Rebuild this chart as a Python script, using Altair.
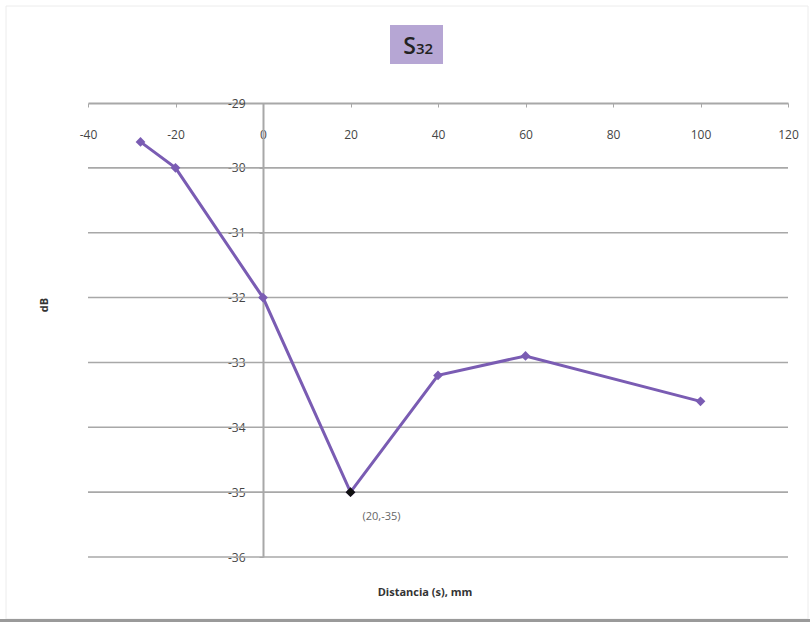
import altair as alt
import pandas as pd

# Measured S32 values versus distance
distancia = [-28, -20, 0, 20, 40, 60, 100]
db = [-29.6, -30.0, -32.0, -35.0, -33.2, -32.9, -33.6]

x_ticks = [-40, -20, 0, 20, 40, 60, 80, 100, 120]
y_ticks = [-29, -30, -31, -32, -33, -34, -35, -36]
grid_levels = [-30, -31, -32, -33, -34, -35, -36]

# Highlighted minimum
min_x, min_y = 20, -35.0
min_label = f"({min_x},{min_y:.0f})"

W, H = 700, 454
X0, X1 = -40, 120
ORIGIN_PX = W * (0 - X0) / (X1 - X0)

FONT = "Open Sans"
LINE = "#7a5cb3"
GRID = "#a8a8a8"
LABEL = "#454545"
PLAIN = "'' + datum.value"  # ASCII hyphen for negatives

x_axis = alt.Axis(
    orient="bottom", offset=-H, values=x_ticks, title=None,
    domainColor=GRID, domainWidth=2, tickColor=GRID, tickSize=4,
    labelPadding=22, labelFont=FONT, labelFontSize=12, labelColor=LABEL,
    labelExpr=PLAIN, grid=False, labelFlush=False, zindex=0,
)
y_axis = alt.Axis(
    orient="left", offset=-ORIGIN_PX, values=y_ticks, title=None,
    domainColor=GRID, domainWidth=2, tickColor=GRID, tickSize=4,
    labelPadding=14, labelFont=FONT, labelFontSize=12, labelColor=LABEL,
    labelExpr=PLAIN, grid=False, labelFlush=False, zindex=0,
)

df = pd.DataFrame({"x": distancia, "y": db})
mins = pd.DataFrame({"x": [min_x], "y": [min_y], "label": [min_label]})
grid_df = pd.DataFrame({"y": grid_levels})

xs = alt.Scale(domain=[X0, X1], nice=False)
ys = alt.Scale(domain=[-36, -29], nice=False)

X = alt.X("x:Q", scale=xs, axis=x_axis)
Y = alt.Y("y:Q", scale=ys, axis=y_axis)

grid = alt.Chart(grid_df).mark_rule(color=GRID, strokeWidth=1.6).encode(
    y=Y, x=alt.value(0), x2=alt.value(W),
)

line = alt.Chart(df).mark_line(color=LINE, strokeWidth=3).encode(x=X, y=Y)

points = alt.Chart(df).mark_point(
    shape="diamond", filled=True, size=95, color=LINE, opacity=1
).encode(x=X, y=Y)

min_point = alt.Chart(mins).mark_point(
    shape="diamond", filled=True, size=95, color="#111111", opacity=1
).encode(x=X, y=Y)

min_text = alt.Chart(mins).mark_text(
    font=FONT, fontSize=11, color="#666666", align="left", baseline="middle",
    dx=12, dy=25,
).encode(x=X, y=Y, text="label:N")

# Title badge
badge = alt.Chart(pd.DataFrame({"t": ["S32"]})).mark_rect(color="#b6a6d4").encode(
    x=alt.value(302), x2=alt.value(355), y=alt.value(-78), y2=alt.value(-39)
)
title_s = alt.Chart(pd.DataFrame({"t": ["S"]})).mark_text(
    font=FONT, fontSize=23, fontWeight=600, color="#222222", align="right",
    baseline="alphabetic"
).encode(x=alt.value(328), y=alt.value(-49), text="t:N")
title_sub = alt.Chart(pd.DataFrame({"t": ["32"]})).mark_text(
    font=FONT, fontSize=15, fontWeight=600, color="#222222", align="left",
    baseline="alphabetic"
).encode(x=alt.value(328), y=alt.value(-49), text="t:N")

x_title = alt.Chart(pd.DataFrame({"t": ["Distancia (s), mm"]})).mark_text(
    font=FONT, fontSize=11, fontWeight="bold", color="#333333"
).encode(x=alt.value(337), y=alt.value(490), text="t:N")
y_title = alt.Chart(pd.DataFrame({"t": ["dB"]})).mark_text(
    font=FONT, fontSize=11, fontWeight="bold", color="#333333", angle=270
).encode(x=alt.value(-43), y=alt.value(202), text="t:N")

# Page frame and bottom shadow (outline only, so axes stay visible)
frame = alt.Chart(pd.DataFrame({"t": ["f"]})).mark_rect(
    fill="white", fillOpacity=0, stroke="#ececec", strokeWidth=1
).encode(x=alt.value(-82), x2=alt.value(W + 20), y=alt.value(-97), y2=alt.value(H + 62))
shadow = alt.Chart(pd.DataFrame({"t": ["s"]})).mark_rect(color="#9a9a9a").encode(
    x=alt.value(-88), x2=alt.value(W + 22), y=alt.value(H + 62), y2=alt.value(H + 65)
)

chart = alt.layer(
    frame, shadow, grid, line, points, min_point, min_text,
    badge, title_s, title_sub, x_title, y_title,
).properties(
    width=W, height=H,
    autosize=alt.AutoSizeParams(type="none"),
    padding={"left": 88, "top": 103, "right": 22, "bottom": 65},
    background="white",
).configure_view(stroke=None)

chart.save("out.html", embed_options={"renderer": "svg", "actions": False})
